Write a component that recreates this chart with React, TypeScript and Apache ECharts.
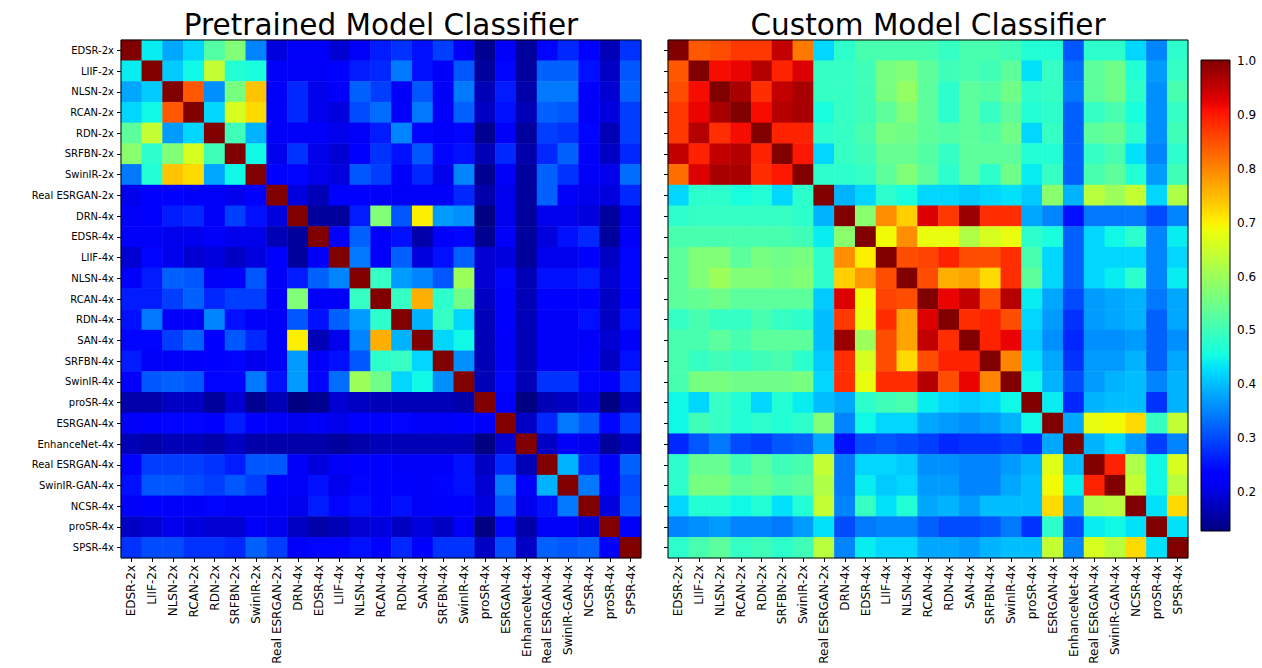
import React, { useEffect, useRef } from "react";
import * as echarts from "echarts";

const categories = [
  "EDSR-2x", "LIIF-2x", "NLSN-2x", "RCAN-2x", "RDN-2x", "SRFBN-2x", "SwinIR-2x", "Real ESRGAN-2x",
  "DRN-4x", "EDSR-4x", "LIIF-4x", "NLSN-4x", "RCAN-4x", "RDN-4x", "SAN-4x", "SRFBN-4x", "SwinIR-4x",
  "proSR-4x", "ESRGAN-4x", "EnhanceNet-4x", "Real ESRGAN-4x", "SwinIR-GAN-4x", "NCSR-4x", "proSR-4x", "SPSR-4x",
];

const pretrained: number[][] = [
  [1.0, 0.44, 0.38, 0.42, 0.52, 0.57, 0.35, 0.20, 0.22, 0.22, 0.19, 0.22, 0.26, 0.28, 0.25, 0.29, 0.22, 0.14, 0.22, 0.15, 0.24, 0.27, 0.23, 0.17, 0.28],
  [0.44, 1.0, 0.41, 0.45, 0.64, 0.47, 0.46, 0.22, 0.22, 0.22, 0.23, 0.26, 0.27, 0.34, 0.25, 0.22, 0.31, 0.15, 0.24, 0.15, 0.32, 0.32, 0.25, 0.18, 0.31],
  [0.38, 0.41, 1.0, 0.84, 0.36, 0.56, 0.74, 0.22, 0.27, 0.21, 0.22, 0.32, 0.29, 0.22, 0.31, 0.22, 0.34, 0.17, 0.26, 0.16, 0.34, 0.34, 0.22, 0.19, 0.32],
  [0.42, 0.45, 0.84, 1.0, 0.42, 0.66, 0.72, 0.22, 0.27, 0.21, 0.20, 0.30, 0.33, 0.22, 0.34, 0.22, 0.32, 0.18, 0.25, 0.17, 0.32, 0.31, 0.22, 0.20, 0.29],
  [0.53, 0.64, 0.37, 0.42, 1.0, 0.50, 0.39, 0.22, 0.22, 0.22, 0.21, 0.22, 0.26, 0.35, 0.24, 0.22, 0.24, 0.14, 0.22, 0.15, 0.29, 0.28, 0.24, 0.17, 0.29],
  [0.58, 0.48, 0.57, 0.66, 0.50, 1.0, 0.45, 0.21, 0.28, 0.21, 0.19, 0.23, 0.28, 0.25, 0.31, 0.24, 0.25, 0.17, 0.27, 0.16, 0.27, 0.32, 0.22, 0.18, 0.27],
  [0.34, 0.47, 0.74, 0.72, 0.38, 0.45, 1.0, 0.23, 0.24, 0.21, 0.20, 0.31, 0.29, 0.22, 0.27, 0.21, 0.35, 0.14, 0.22, 0.15, 0.32, 0.28, 0.22, 0.21, 0.33],
  [0.21, 0.23, 0.23, 0.22, 0.22, 0.21, 0.23, 1.0, 0.20, 0.17, 0.23, 0.23, 0.22, 0.22, 0.22, 0.22, 0.27, 0.16, 0.21, 0.15, 0.32, 0.22, 0.21, 0.20, 0.27],
  [0.22, 0.23, 0.26, 0.27, 0.22, 0.29, 0.25, 0.20, 1.0, 0.15, 0.15, 0.26, 0.57, 0.31, 0.70, 0.37, 0.36, 0.13, 0.21, 0.15, 0.21, 0.21, 0.20, 0.15, 0.21],
  [0.22, 0.22, 0.21, 0.21, 0.22, 0.21, 0.21, 0.17, 0.15, 1.0, 0.22, 0.32, 0.22, 0.25, 0.16, 0.22, 0.24, 0.14, 0.22, 0.15, 0.20, 0.25, 0.27, 0.15, 0.22],
  [0.19, 0.24, 0.21, 0.19, 0.20, 0.18, 0.20, 0.23, 0.15, 0.22, 1.0, 0.34, 0.22, 0.32, 0.20, 0.25, 0.32, 0.19, 0.20, 0.15, 0.21, 0.21, 0.23, 0.18, 0.24],
  [0.22, 0.26, 0.32, 0.31, 0.22, 0.23, 0.31, 0.22, 0.26, 0.32, 0.35, 1.0, 0.49, 0.37, 0.35, 0.31, 0.60, 0.19, 0.24, 0.17, 0.25, 0.25, 0.26, 0.19, 0.24],
  [0.26, 0.26, 0.29, 0.32, 0.27, 0.29, 0.29, 0.22, 0.57, 0.22, 0.22, 0.49, 1.0, 0.49, 0.76, 0.48, 0.55, 0.18, 0.23, 0.17, 0.23, 0.23, 0.23, 0.18, 0.23],
  [0.25, 0.34, 0.22, 0.22, 0.35, 0.25, 0.22, 0.22, 0.31, 0.25, 0.32, 0.37, 0.48, 1.0, 0.39, 0.49, 0.42, 0.17, 0.23, 0.17, 0.22, 0.22, 0.25, 0.18, 0.25],
  [0.24, 0.24, 0.29, 0.32, 0.23, 0.31, 0.27, 0.22, 0.70, 0.17, 0.21, 0.35, 0.76, 0.39, 1.0, 0.42, 0.45, 0.17, 0.22, 0.17, 0.22, 0.22, 0.22, 0.19, 0.22],
  [0.26, 0.22, 0.22, 0.22, 0.23, 0.24, 0.21, 0.22, 0.37, 0.22, 0.25, 0.31, 0.48, 0.49, 0.42, 1.0, 0.36, 0.17, 0.22, 0.17, 0.22, 0.22, 0.23, 0.18, 0.25],
  [0.22, 0.31, 0.32, 0.31, 0.24, 0.24, 0.34, 0.25, 0.37, 0.24, 0.33, 0.60, 0.55, 0.42, 0.45, 0.36, 1.0, 0.17, 0.24, 0.17, 0.28, 0.28, 0.24, 0.22, 0.28],
  [0.16, 0.16, 0.18, 0.18, 0.15, 0.19, 0.14, 0.17, 0.13, 0.14, 0.19, 0.18, 0.17, 0.17, 0.17, 0.17, 0.16, 1.0, 0.22, 0.13, 0.17, 0.18, 0.20, 0.13, 0.18],
  [0.22, 0.23, 0.24, 0.24, 0.23, 0.26, 0.23, 0.22, 0.21, 0.22, 0.21, 0.23, 0.23, 0.24, 0.22, 0.22, 0.23, 0.22, 1.0, 0.18, 0.27, 0.34, 0.31, 0.24, 0.29],
  [0.17, 0.16, 0.17, 0.17, 0.16, 0.18, 0.16, 0.16, 0.16, 0.16, 0.15, 0.16, 0.17, 0.17, 0.17, 0.17, 0.17, 0.13, 0.19, 1.0, 0.18, 0.22, 0.21, 0.15, 0.18],
  [0.23, 0.29, 0.29, 0.29, 0.28, 0.26, 0.31, 0.31, 0.22, 0.20, 0.22, 0.23, 0.23, 0.22, 0.22, 0.22, 0.25, 0.18, 0.27, 0.17, 1.0, 0.39, 0.27, 0.22, 0.32],
  [0.25, 0.31, 0.31, 0.30, 0.29, 0.31, 0.29, 0.23, 0.22, 0.25, 0.21, 0.24, 0.23, 0.23, 0.22, 0.24, 0.25, 0.19, 0.34, 0.22, 0.39, 1.0, 0.34, 0.22, 0.30],
  [0.22, 0.23, 0.22, 0.22, 0.24, 0.22, 0.22, 0.22, 0.21, 0.26, 0.24, 0.25, 0.23, 0.25, 0.22, 0.23, 0.23, 0.20, 0.31, 0.21, 0.25, 0.34, 1.0, 0.20, 0.31],
  [0.18, 0.19, 0.21, 0.20, 0.19, 0.19, 0.22, 0.21, 0.18, 0.16, 0.17, 0.19, 0.20, 0.18, 0.20, 0.18, 0.22, 0.13, 0.24, 0.16, 0.22, 0.22, 0.20, 1.0, 0.22],
  [0.28, 0.30, 0.30, 0.28, 0.28, 0.27, 0.32, 0.29, 0.22, 0.24, 0.24, 0.25, 0.23, 0.27, 0.23, 0.28, 0.28, 0.18, 0.30, 0.18, 0.32, 0.31, 0.32, 0.22, 1.0],
];

const custom: number[][] = [
  [1.0, 0.84, 0.85, 0.87, 0.87, 0.95, 0.81, 0.42, 0.48, 0.51, 0.51, 0.51, 0.51, 0.49, 0.51, 0.51, 0.50, 0.47, 0.47, 0.31, 0.48, 0.48, 0.42, 0.35, 0.48],
  [0.84, 1.0, 0.91, 0.92, 0.96, 0.89, 0.93, 0.49, 0.49, 0.50, 0.56, 0.57, 0.53, 0.50, 0.51, 0.50, 0.53, 0.43, 0.49, 0.33, 0.53, 0.55, 0.47, 0.37, 0.49],
  [0.85, 0.91, 1.0, 0.97, 0.88, 0.95, 0.97, 0.49, 0.49, 0.50, 0.56, 0.59, 0.53, 0.48, 0.53, 0.52, 0.55, 0.48, 0.49, 0.34, 0.53, 0.55, 0.48, 0.36, 0.51],
  [0.87, 0.92, 0.97, 1.0, 0.91, 0.96, 0.97, 0.46, 0.49, 0.50, 0.53, 0.57, 0.53, 0.48, 0.53, 0.49, 0.53, 0.47, 0.48, 0.32, 0.49, 0.51, 0.46, 0.36, 0.49],
  [0.87, 0.96, 0.88, 0.91, 1.0, 0.89, 0.89, 0.48, 0.49, 0.51, 0.56, 0.55, 0.53, 0.52, 0.53, 0.52, 0.55, 0.42, 0.49, 0.32, 0.53, 0.54, 0.48, 0.36, 0.50],
  [0.95, 0.89, 0.95, 0.96, 0.89, 1.0, 0.90, 0.42, 0.49, 0.50, 0.54, 0.54, 0.52, 0.49, 0.53, 0.53, 0.53, 0.47, 0.47, 0.32, 0.49, 0.51, 0.43, 0.35, 0.48],
  [0.82, 0.93, 0.97, 0.97, 0.88, 0.90, 1.0, 0.48, 0.48, 0.49, 0.53, 0.57, 0.53, 0.48, 0.53, 0.48, 0.55, 0.44, 0.49, 0.32, 0.51, 0.53, 0.47, 0.37, 0.50],
  [0.42, 0.48, 0.48, 0.46, 0.47, 0.42, 0.48, 1.0, 0.39, 0.42, 0.48, 0.46, 0.42, 0.42, 0.41, 0.42, 0.43, 0.41, 0.58, 0.39, 0.63, 0.60, 0.64, 0.42, 0.62],
  [0.48, 0.49, 0.49, 0.49, 0.49, 0.49, 0.48, 0.39, 1.0, 0.58, 0.79, 0.73, 0.93, 0.87, 0.98, 0.88, 0.88, 0.38, 0.35, 0.25, 0.34, 0.34, 0.34, 0.30, 0.35],
  [0.51, 0.51, 0.51, 0.51, 0.51, 0.51, 0.50, 0.44, 0.58, 1.0, 0.69, 0.79, 0.68, 0.68, 0.62, 0.66, 0.68, 0.48, 0.46, 0.32, 0.42, 0.45, 0.48, 0.35, 0.44],
  [0.53, 0.57, 0.57, 0.53, 0.56, 0.55, 0.56, 0.48, 0.79, 0.70, 1.0, 0.85, 0.86, 0.89, 0.85, 0.85, 0.88, 0.51, 0.42, 0.32, 0.42, 0.42, 0.42, 0.35, 0.42],
  [0.53, 0.57, 0.60, 0.57, 0.57, 0.56, 0.57, 0.48, 0.73, 0.78, 0.85, 1.0, 0.85, 0.76, 0.77, 0.72, 0.88, 0.53, 0.42, 0.32, 0.42, 0.44, 0.48, 0.35, 0.44],
  [0.53, 0.54, 0.55, 0.53, 0.53, 0.53, 0.53, 0.41, 0.93, 0.69, 0.86, 0.85, 1.0, 0.92, 0.95, 0.85, 0.96, 0.44, 0.38, 0.30, 0.37, 0.38, 0.39, 0.34, 0.38],
  [0.49, 0.51, 0.49, 0.49, 0.51, 0.49, 0.48, 0.40, 0.87, 0.68, 0.88, 0.77, 0.93, 1.0, 0.88, 0.89, 0.85, 0.42, 0.37, 0.28, 0.37, 0.38, 0.39, 0.32, 0.38],
  [0.51, 0.51, 0.53, 0.51, 0.53, 0.53, 0.53, 0.40, 0.98, 0.60, 0.85, 0.77, 0.95, 0.88, 1.0, 0.89, 0.92, 0.41, 0.36, 0.27, 0.36, 0.36, 0.37, 0.32, 0.36],
  [0.51, 0.49, 0.50, 0.49, 0.50, 0.51, 0.48, 0.41, 0.88, 0.66, 0.85, 0.72, 0.85, 0.89, 0.89, 1.0, 0.80, 0.43, 0.38, 0.28, 0.37, 0.37, 0.39, 0.32, 0.38],
  [0.51, 0.56, 0.56, 0.55, 0.55, 0.55, 0.56, 0.42, 0.88, 0.68, 0.88, 0.88, 0.96, 0.85, 0.92, 0.80, 1.0, 0.45, 0.39, 0.30, 0.37, 0.39, 0.40, 0.35, 0.39],
  [0.45, 0.42, 0.49, 0.47, 0.42, 0.47, 0.44, 0.40, 0.38, 0.48, 0.50, 0.51, 0.44, 0.42, 0.41, 0.42, 0.45, 1.0, 0.44, 0.27, 0.39, 0.40, 0.40, 0.28, 0.39],
  [0.45, 0.50, 0.49, 0.47, 0.48, 0.47, 0.48, 0.57, 0.35, 0.45, 0.42, 0.42, 0.38, 0.37, 0.36, 0.37, 0.39, 0.45, 1.0, 0.38, 0.68, 0.69, 0.72, 0.49, 0.64],
  [0.27, 0.31, 0.34, 0.30, 0.29, 0.31, 0.32, 0.38, 0.25, 0.30, 0.31, 0.30, 0.29, 0.27, 0.28, 0.28, 0.29, 0.27, 0.38, 1.0, 0.39, 0.42, 0.37, 0.29, 0.35],
  [0.48, 0.54, 0.54, 0.50, 0.53, 0.50, 0.51, 0.64, 0.34, 0.42, 0.42, 0.41, 0.36, 0.36, 0.35, 0.35, 0.37, 0.39, 0.67, 0.40, 1.0, 0.89, 0.62, 0.45, 0.66],
  [0.48, 0.56, 0.56, 0.53, 0.54, 0.52, 0.53, 0.62, 0.34, 0.44, 0.41, 0.42, 0.37, 0.37, 0.35, 0.35, 0.38, 0.40, 0.69, 0.44, 0.89, 1.0, 0.64, 0.45, 0.63],
  [0.42, 0.47, 0.47, 0.45, 0.47, 0.43, 0.47, 0.64, 0.35, 0.49, 0.43, 0.47, 0.38, 0.39, 0.37, 0.40, 0.40, 0.40, 0.72, 0.38, 0.62, 0.63, 1.0, 0.43, 0.72],
  [0.35, 0.36, 0.37, 0.35, 0.35, 0.34, 0.37, 0.43, 0.30, 0.34, 0.35, 0.35, 0.32, 0.30, 0.30, 0.31, 0.34, 0.28, 0.48, 0.30, 0.44, 0.45, 0.43, 1.0, 0.43],
  [0.48, 0.51, 0.53, 0.49, 0.50, 0.48, 0.50, 0.63, 0.35, 0.44, 0.42, 0.42, 0.38, 0.38, 0.37, 0.39, 0.40, 0.40, 0.64, 0.35, 0.66, 0.63, 0.72, 0.43, 1.0],
];

const colorbarTicks = [0.2, 0.3, 0.4, 0.5, 0.6, 0.7, 0.8, 0.9, 1.0];
const valueMin = 0.128;
const valueMax = 1.0;

const titles = ["Pretrained Model Classifier", "Custom Model Classifier"];

// matplotlib "jet" colormap
function interp(pts: number[][], t: number): number {
  for (let i = 1; i < pts.length; i++) {
    if (t <= pts[i][0]) {
      const [x0, y0] = pts[i - 1];
      const [x1, y1] = pts[i];
      return y0 + ((t - x0) / (x1 - x0)) * (y1 - y0);
    }
  }
  return pts[pts.length - 1][1];
}
const jetR = [[0, 0], [0.35, 0], [0.66, 1], [0.89, 1], [1, 0.5]];
const jetG = [[0, 0], [0.125, 0], [0.375, 1], [0.64, 1], [0.91, 0], [1, 0]];
const jetB = [[0, 0.5], [0.11, 1], [0.34, 1], [0.65, 0], [1, 0]];
function jet(t: number): string {
  const c = (v: number) => Math.round(Math.max(0, Math.min(1, v)) * 255);
  return `rgb(${c(interp(jetR, t))},${c(interp(jetG, t))},${c(interp(jetB, t))})`;
}
const jetColors: string[] = [];
for (let i = 0; i <= 64; i++) jetColors.push(jet(i / 64));

const FONT = "'DejaVu Sans', sans-serif";

function toCells(m: number[][]): number[][] {
  const out: number[][] = [];
  m.forEach((row, y) => row.forEach((v, x) => out.push([x, y, v])));
  return out;
}

const GRIDS = [
  { left: 121, top: 40, width: 520, height: 518 },
  { left: 668, top: 40, width: 520, height: 518 },
];
const CBAR = { left: 1201, top: 61, width: 29, height: 470 };

export default function App() {
  const ref = useRef<HTMLDivElement>(null);
  useEffect(() => {
    if (!ref.current) return;
    const chart = echarts.init(ref.current, undefined, { renderer: "svg" });

    const catX = (gi: number) => ({
      gridIndex: gi,
      type: "category",
      data: categories,
      axisLine: { show: false },
      axisTick: { show: true, alignWithLabel: true, length: 4, lineStyle: { color: "#000", width: 1 } },
      axisLabel: { rotate: 90, interval: 0, fontSize: 12, color: "#000", fontFamily: FONT, margin: 7 },
      splitLine: { show: false },
    });
    const catY = (gi: number, showLabel: boolean) => ({
      gridIndex: gi,
      type: "category",
      data: categories,
      inverse: true,
      axisLine: { show: false },
      axisTick: { show: true, alignWithLabel: true, length: 4, lineStyle: { color: "#000", width: 1 } },
      axisLabel: { show: showLabel, interval: 0, fontSize: 10, color: "#000", fontFamily: FONT, margin: 7 },
      splitLine: { show: false },
    });

    const stops = jetColors.map((c, i) => ({ offset: i / (jetColors.length - 1), color: c }));

    const option: any = {
      animation: false,
      backgroundColor: "#fff",
      grid: [
        { ...GRIDS[0], containLabel: false },
        { ...GRIDS[1], containLabel: false },
        { ...CBAR, containLabel: false },
      ],
      xAxis: [
        catX(0),
        catX(1),
        { gridIndex: 2, type: "value", min: 0, max: 1, show: false },
      ],
      yAxis: [
        catY(0, true),
        catY(1, false),
        {
          gridIndex: 2,
          type: "value",
          min: valueMin,
          max: valueMax,
          position: "right",
          axisLine: { show: false },
          splitLine: { show: false },
          axisTick: { show: true, customValues: colorbarTicks, length: 4, lineStyle: { color: "#000" } },
          axisLabel: {
            customValues: colorbarTicks,
            formatter: (v: number) => v.toFixed(1),
            fontSize: 12,
            color: "#000",
            fontFamily: FONT,
            margin: 7,
          },
        },
      ],
      visualMap: {
        type: "continuous",
        show: false,
        min: valueMin,
        max: valueMax,
        dimension: 2,
        seriesIndex: [0, 1],
        inRange: { color: jetColors },
      },
      series: [pretrained, custom].map((m, i) => ({
        type: "heatmap",
        xAxisIndex: i,
        yAxisIndex: i,
        data: toCells(m),
        itemStyle: { borderWidth: 0 },
        emphasis: { disabled: true },
        progressive: 0,
      })),
      graphic: [
        ...titles.map((t, i) => ({
          type: "text",
          x: GRIDS[i].left + GRIDS[i].width / 2,
          y: 25,
          style: {
            text: t,
            fontSize: 29.5,
            fontFamily: FONT,
            fill: "#000",
            align: "center",
            verticalAlign: "middle",
          },
        })),
        ...GRIDS.map((g) => ({
          type: "rect",
          z: 100,
          shape: { x: g.left, y: g.top, width: g.width, height: g.height },
          style: { fill: "none", stroke: "#000", lineWidth: 1 },
        })),
        {
          type: "rect",
          z: 50,
          shape: { x: CBAR.left, y: 60, width: CBAR.width, height: CBAR.top + CBAR.height - 60 },
          style: {
            fill: new echarts.graphic.LinearGradient(0, 1, 0, 0, stops),
            stroke: "#000",
            lineWidth: 1,
          },
        },
      ],
    };
    chart.setOption(option);
    return () => chart.dispose();
  }, []);

  return (
    <div
      ref={ref}
      style={{ position: "fixed", left: 0, top: 0, width: 1262, height: 668, background: "#fff" }}
    />
  );
}
